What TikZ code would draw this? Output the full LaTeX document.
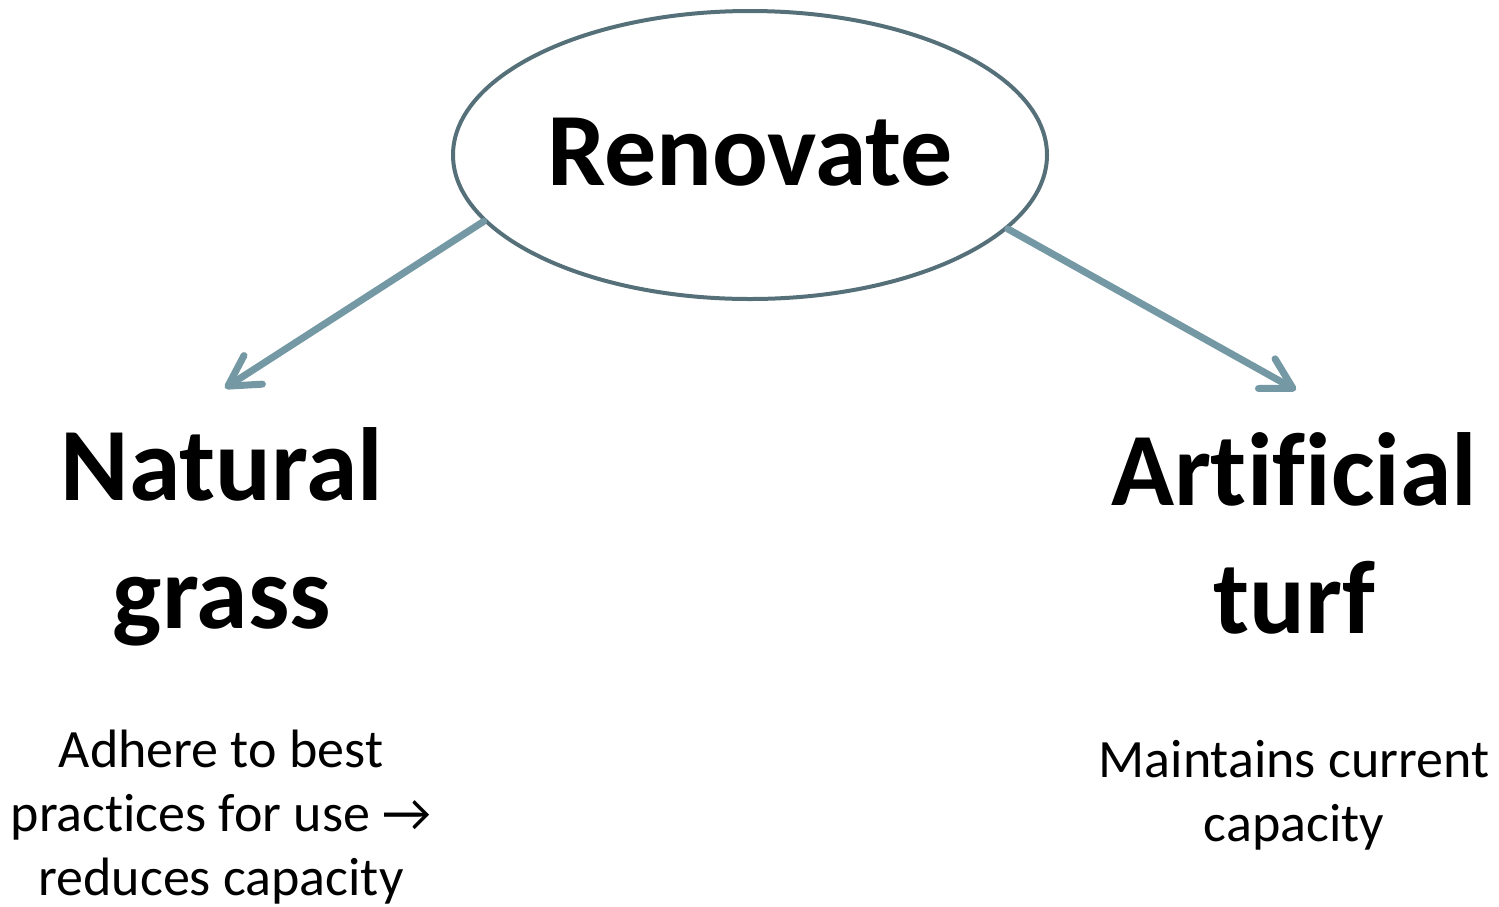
\documentclass[tikz,border=0pt]{standalone}
\usepackage{fontspec}
\setmainfont{Carlito}[Ligatures={NoCommon,NoRare}]
\usetikzlibrary{shapes.geometric,arrows.meta}
\definecolor{rimgrey}{HTML}{56707A}
\definecolor{arrowgrey}{HTML}{7499A5}
\tikzset{choice/.style={font=\bfseries\fontsize{52}{64}\selectfont,align=center,anchor=base},
         note/.style={font=\fontsize{27}{32}\selectfont,align=center,anchor=base},
         rim/.style={draw=rimgrey,line width=2pt,ellipse,minimum width=297pt,minimum height=144pt},
         branch/.style={draw=arrowgrey,line width=3.5pt,line cap=round,
           -{Straight Barb[length=15pt,width=17pt,line cap=round,line join=round]}}}
\begin{document}
\begin{tikzpicture}[x=0.5pt,y=-0.5pt]
  \useasboundingbox (0,0) rectangle (1499,906);
  \node[rim] (renovate) at (750,155) {};
  \node[font=\bfseries\fontsize{52}{64}\selectfont,anchor=base] (title) at (750,185) {Renovate};
  % base anchor sits on the last line
  \node[choice] (natural) at (222,628) {Natural\\grass};
  \node[choice] (artificial) at (1294,633) {Artificial\\turf};
  \node[note] (naturalnote) at (221,895) {Adhere to best\\practices for use →\\reduces capacity};
  \node[note] (artificialnote) at (1294,841) {Maintains current\\capacity};
  \coordinate (lefttip) at (225,388);
  \coordinate (righttip) at (1296,390);
  \draw[branch] (renovate.194) -- (lefttip);
  \draw[branch] (renovate.344) -- (righttip);
\end{tikzpicture}
\end{document}
